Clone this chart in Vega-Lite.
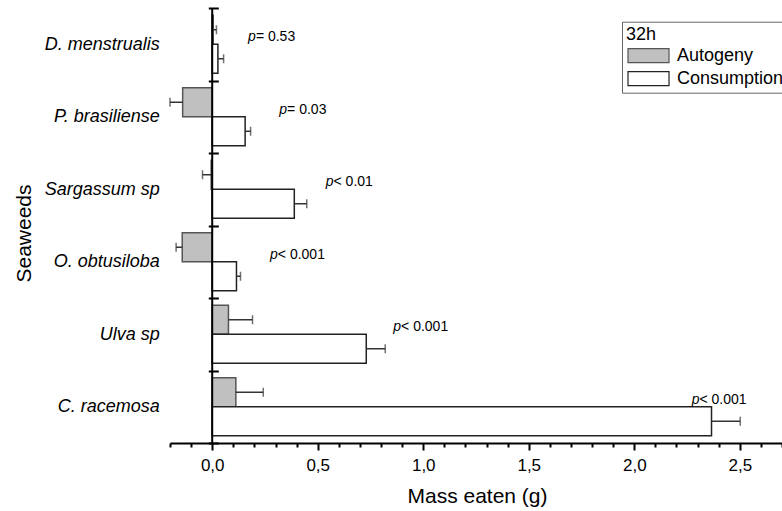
{
  "$schema": "https://vega.github.io/schema/vega-lite/v6.json",
  "autosize": {"type": "none"},
  "padding": {"left": 170, "top": 8, "right": 0, "bottom": 68},
  "width": 612,
  "height": 435,
  "background": "white",
  "config": {"view": {"stroke": null}, "font": "Liberation Sans"},
  "resolve": {"axis": {"x": "independent"}},
  "datasets": {
    "bars": [
      {"seaweed": "D. menstrualis", "treatment": "Autogeny", "value": 0.005, "whisker": 0.02},
      {"seaweed": "D. menstrualis", "treatment": "Consumption", "value": 0.027, "whisker": 0.054},
      {"seaweed": "P. brasiliense", "treatment": "Autogeny", "value": -0.14, "whisker": -0.2},
      {"seaweed": "P. brasiliense", "treatment": "Consumption", "value": 0.156, "whisker": 0.182},
      {"seaweed": "Sargassum sp", "treatment": "Autogeny", "value": -0.005, "whisker": -0.046},
      {"seaweed": "Sargassum sp", "treatment": "Consumption", "value": 0.389, "whisker": 0.448},
      {"seaweed": "O. obtusiloba", "treatment": "Autogeny", "value": -0.142, "whisker": -0.171},
      {"seaweed": "O. obtusiloba", "treatment": "Consumption", "value": 0.115, "whisker": 0.134},
      {"seaweed": "Ulva sp", "treatment": "Autogeny", "value": 0.077, "whisker": 0.191},
      {"seaweed": "Ulva sp", "treatment": "Consumption", "value": 0.73, "whisker": 0.82},
      {"seaweed": "C. racemosa", "treatment": "Autogeny", "value": 0.112, "whisker": 0.242},
      {"seaweed": "C. racemosa", "treatment": "Consumption", "value": 2.366, "whisker": 2.502}
    ],
    "pvals": [
      {"seaweed": "D. menstrualis", "px": 0.17, "ptext": "= 0.53"},
      {"seaweed": "P. brasiliense", "px": 0.318, "ptext": "= 0.03"},
      {"seaweed": "Sargassum sp", "px": 0.538, "ptext": "< 0.01"},
      {"seaweed": "O. obtusiloba", "px": 0.274, "ptext": "< 0.001"},
      {"seaweed": "Ulva sp", "px": 0.858, "ptext": "< 0.001"},
      {"seaweed": "C. racemosa", "px": 2.272, "ptext": "< 0.001"}
    ]
  },
  "layer": [
    {
      "data": {"name": "bars"},
      "mark": {"type": "bar", "strokeWidth": 1.5},
      "encoding": {
        "y": {
          "field": "seaweed", "type": "nominal", "title": "Seaweeds",
          "scale": {"domain": ["D. menstrualis", "P. brasiliense", "Sargassum sp", "O. obtusiloba", "Ulva sp", "C. racemosa"], "paddingInner": 0, "paddingOuter": 0},
          "axis": {
            "orient": "left", "offset": -48.3, "domain": false, "ticks": true, "tickBand": "extent",
            "tickSize": 10, "tickWidth": 2, "tickColor": "black",
            "labelPadding": 49, "labelFontSize": 18, "labelFontStyle": "italic", "labelColor": "black",
            "labelFont": "Liberation Sans",
            "titleFontSize": 21, "titleFontWeight": "normal", "titleColor": "black", "titleFont": "Liberation Sans",
            "titleAngle": 270, "titleBaseline": "alphabetic", "titleAlign": "center",
            "titleX": -187.6, "titleY": 225
          }
        },
        "yOffset": {"field": "treatment", "type": "nominal", "scale": {"domain": ["Autogeny", "Consumption"], "paddingInner": 0, "paddingOuter": 0.25}},
        "x": {
          "field": "value", "type": "quantitative", "title": "Mass eaten (g)",
          "scale": {"domain": [-0.2, 2.7], "nice": false, "zero": false},
          "axis": {
            "orient": "bottom",
            "values": [0, 0.5, 1, 1.5, 2, 2.5],
            "grid": false, "domainColor": "black", "domainWidth": 2,
            "tickColor": "black", "tickWidth": 2, "tickSize": 7,
            "labelExpr": "replace(format(datum.value, '.1f'), '.', ',')",
            "labelOverlap": false, "labelFlush": false, "labelBound": false,
            "labelFontSize": 17, "labelColor": "black", "labelFont": "Liberation Sans",
            "labelBaseline": "alphabetic", "labelPadding": 20,
            "titleFontSize": 21, "titleFontWeight": "normal", "titleColor": "black", "titleFont": "Liberation Sans",
            "titleBaseline": "alphabetic", "titleX": 307, "titleY": 59.7
          }
        },
        "x2": {"datum": 0},
        "fill": {
          "field": "treatment", "type": "nominal",
          "scale": {"domain": ["Autogeny", "Consumption"], "range": ["#c0c0c0", "#ffffff"]},
          "legend": {
            "title": "32h", "orient": "none", "legendX": 452, "legendY": 13.7,
            "titleFontSize": 18, "titleFontWeight": "normal", "titleColor": "black", "titleFont": "Liberation Sans",
            "labelFontSize": 18, "labelColor": "black", "labelFont": "Liberation Sans",
            "symbolType": "M-1,-1L4.86,-1L4.86,1L-1,1Z", "symbolSize": 196, "symbolStrokeWidth": 1.2,
            "strokeColor": "#666666", "padding": 4, "rowPadding": 3, "titlePadding": 3, "labelOffset": 33
          }
        },
        "stroke": {
          "field": "treatment", "type": "nominal",
          "scale": {"domain": ["Autogeny", "Consumption"], "range": ["#555555", "#222222"]},
          "legend": {
            "title": "32h", "orient": "none", "legendX": 452, "legendY": 13.7,
            "titleFontSize": 18, "titleFontWeight": "normal", "titleColor": "black", "titleFont": "Liberation Sans",
            "labelFontSize": 18, "labelColor": "black", "labelFont": "Liberation Sans",
            "symbolType": "M-1,-1L4.86,-1L4.86,1L-1,1Z", "symbolSize": 196, "symbolStrokeWidth": 1.2,
            "strokeColor": "#666666", "padding": 4, "rowPadding": 3, "titlePadding": 3, "labelOffset": 33
          }
        }
      }
    },
    {
      "data": {"name": "bars"},
      "mark": {"type": "rule", "strokeWidth": 1.5, "color": "#333333"},
      "encoding": {
        "y": {"field": "seaweed", "type": "nominal", "title": "Seaweeds"},
        "yOffset": {"field": "treatment", "type": "nominal"},
        "x": {
          "field": "value", "type": "quantitative",
          "axis": {
            "orient": "bottom", "title": null,
            "values": [-0.2, -0.1, 0.1, 0.2, 0.3, 0.4, 0.6, 0.7, 0.8, 0.9, 1.1, 1.2, 1.3, 1.4, 1.6, 1.7, 1.8, 1.9, 2.1, 2.2, 2.3, 2.4, 2.6, 2.7],
            "grid": false, "domain": false, "labels": false,
            "tickColor": "black", "tickWidth": 2, "tickSize": 4
          }
        },
        "x2": {"field": "whisker"}
      }
    },
    {
      "data": {"name": "bars"},
      "mark": {"type": "tick", "orient": "vertical", "size": 9, "thickness": 1.5, "color": "#333333"},
      "encoding": {
        "y": {"field": "seaweed", "type": "nominal", "title": "Seaweeds"},
        "yOffset": {"field": "treatment", "type": "nominal"},
        "x": {"field": "whisker", "type": "quantitative", "axis": null}
      }
    },
    {
      "data": {"values": [{}]},
      "mark": {"type": "rule", "strokeWidth": 2, "color": "black"},
      "encoding": {"x": {"datum": 0, "type": "quantitative", "axis": null}}
    },
    {
      "data": {"name": "pvals"},
      "mark": {"type": "text", "align": "left", "baseline": "middle", "fontSize": 14, "fontStyle": "italic", "dy": -7, "color": "black", "font": "Liberation Sans"},
      "encoding": {
        "y": {"field": "seaweed", "type": "nominal", "title": "Seaweeds"},
        "x": {"field": "px", "type": "quantitative", "axis": null},
        "text": {"value": "p"}
      }
    },
    {
      "data": {"name": "pvals"},
      "mark": {"type": "text", "align": "left", "baseline": "middle", "fontSize": 14, "dy": -7, "dx": 7.8, "color": "black", "font": "Liberation Sans"},
      "encoding": {
        "y": {"field": "seaweed", "type": "nominal", "title": "Seaweeds"},
        "x": {"field": "px", "type": "quantitative", "axis": null},
        "text": {"field": "ptext"}
      }
    }
  ]
}
